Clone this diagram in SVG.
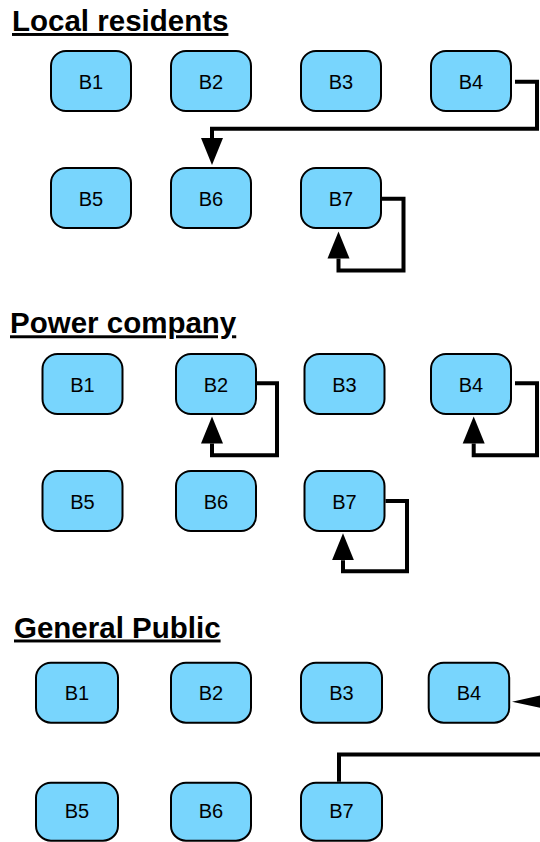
<svg xmlns="http://www.w3.org/2000/svg" width="540" height="842" viewBox="0 0 540 842">
<defs>
<style>
.title{font-family:"Liberation Sans",Arial,Helvetica,sans-serif;font-weight:bold;font-size:29.5px;fill:#000;text-decoration:underline;}
.box{fill:#78D5FD;stroke:#000;stroke-width:2;}
.lbl{font-family:"Liberation Sans",Arial,Helvetica,sans-serif;font-size:20px;fill:#000;text-anchor:middle;}
.conn{fill:none;stroke:#000;stroke-width:4;stroke-linejoin:miter;stroke-linecap:butt;}
</style>
<marker id="ah" markerUnits="userSpaceOnUse" markerWidth="28" markerHeight="24" viewBox="0 0 28 24" refX="0" refY="12" orient="auto"><path d="M0,1 L27,12 L0,23 z" fill="#000"/></marker>
<marker id="ahl" markerUnits="userSpaceOnUse" markerWidth="52" markerHeight="24" viewBox="0 0 52 24" refX="0" refY="12" orient="auto"><path d="M0,1 L50,12 L0,23 z" fill="#000"/></marker>
</defs>
<rect width="540" height="842" fill="#fff"/>

<g id="title-local"><text class="title" x="12" y="31">Local residents</text></g>
<g id="title-power"><text class="title" x="10" y="333.3">Power company</text></g>
<g id="title-public"><text class="title" x="14" y="637.5">General Public</text></g>

<g id="lr-b1"><rect class="box" x="51" y="51" width="80" height="60" rx="15"/><text class="lbl" x="91" y="88.5">B1</text></g>
<g id="lr-b2"><rect class="box" x="171" y="51" width="80" height="60" rx="15"/><text class="lbl" x="211" y="88.5">B2</text></g>
<g id="lr-b3"><rect class="box" x="301" y="51" width="80" height="60" rx="15"/><text class="lbl" x="341" y="88.5">B3</text></g>
<g id="lr-b4"><rect class="box" x="431" y="51" width="80" height="60" rx="15"/><text class="lbl" x="471" y="88.5">B4</text></g>
<g id="lr-b5"><rect class="box" x="51" y="168" width="80" height="60" rx="15"/><text class="lbl" x="91" y="205.5">B5</text></g>
<g id="lr-b6"><rect class="box" x="171" y="168" width="80" height="60" rx="15"/><text class="lbl" x="211" y="205.5">B6</text></g>
<g id="lr-b7"><rect class="box" x="301" y="168" width="80" height="60" rx="15"/><text class="lbl" x="341" y="205.5">B7</text></g>

<g id="pc-b1"><rect class="box" x="42.5" y="354" width="80" height="60" rx="15"/><text class="lbl" x="82.5" y="391.5">B1</text></g>
<g id="pc-b2"><rect class="box" x="176" y="354" width="80" height="60" rx="15"/><text class="lbl" x="216" y="391.5">B2</text></g>
<g id="pc-b3"><rect class="box" x="304.5" y="354" width="80" height="60" rx="15"/><text class="lbl" x="344.5" y="391.5">B3</text></g>
<g id="pc-b4"><rect class="box" x="431" y="354" width="80" height="60" rx="15"/><text class="lbl" x="471" y="391.5">B4</text></g>
<g id="pc-b5"><rect class="box" x="42.5" y="471" width="80" height="60" rx="15"/><text class="lbl" x="82.5" y="508.5">B5</text></g>
<g id="pc-b6"><rect class="box" x="176" y="471" width="80" height="60" rx="15"/><text class="lbl" x="216" y="508.5">B6</text></g>
<g id="pc-b7"><rect class="box" x="304.5" y="471" width="80" height="60" rx="15"/><text class="lbl" x="344.5" y="508.5">B7</text></g>

<g id="gp-b1"><rect class="box" x="36" y="662.7" width="82" height="60" rx="15"/><text class="lbl" x="77" y="700">B1</text></g>
<g id="gp-b2"><rect class="box" x="171" y="662.7" width="80" height="60" rx="15"/><text class="lbl" x="211" y="700">B2</text></g>
<g id="gp-b3"><rect class="box" x="301" y="662.7" width="81" height="60" rx="15"/><text class="lbl" x="341.5" y="700">B3</text></g>
<g id="gp-b4"><rect class="box" x="428.7" y="662.7" width="80.5" height="60" rx="15"/><text class="lbl" x="469" y="700">B4</text></g>
<g id="gp-b5"><rect class="box" x="36" y="782.7" width="82" height="58" rx="15"/><text class="lbl" x="77" y="818">B5</text></g>
<g id="gp-b6"><rect class="box" x="171" y="782.7" width="80" height="58" rx="15"/><text class="lbl" x="211" y="818">B6</text></g>
<g id="gp-b7"><rect class="box" x="301" y="782.7" width="81" height="58" rx="15"/><text class="lbl" x="341.5" y="818">B7</text></g>

<g id="connectors">
<path class="conn" d="M515,81.7 H537 V128.7 H212 V138" marker-end="url(#ah)"/>
<path class="conn" d="M381.7,198.7 H403.5 V270.5 H338.5 V258.5" marker-end="url(#ah)"/>
<path class="conn" d="M257,383.3 H277 V455.3 H212 V443.5" marker-end="url(#ah)"/>
<path class="conn" d="M515,383.3 H537 V455.3 H473.7 V443.5" marker-end="url(#ah)"/>
<path class="conn" d="M385.5,501 H407 V571.3 H343 V560.3" marker-end="url(#ah)"/>
<path class="conn" d="M339,781.7 V754.5 H575 V701.7 H562" marker-end="url(#ahl)"/>
</g>
</svg>
